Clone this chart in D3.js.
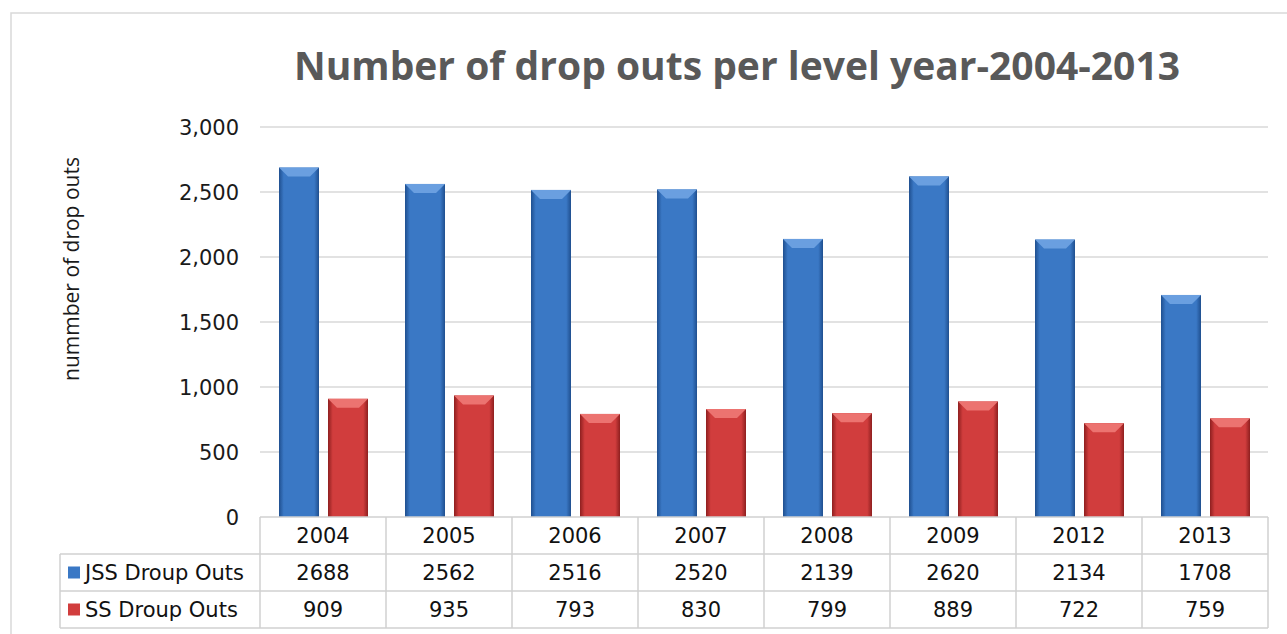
<!DOCTYPE html>
<html>
<head>
<meta charset="utf-8">
<script src="https://cdn.jsdelivr.net/npm/d3@7"></script>
<style>
  body { margin: 0; background: #fff; }
  svg { display: block; }
</style>
</head>
<body>
<div id="chart"></div>
<script>
// chart data
const years = ["2004", "2005", "2006", "2007", "2008", "2009", "2012", "2013"]
const jss = [2688, 2562, 2516, 2520, 2139, 2620, 2134, 1708]
const ss = [909, 935, 793, 830, 799, 889, 722, 759]
const seriesNames = ["JSS Droup Outs", "SS Droup Outs"]
const yTicks = [0, 500, 1000, 1500, 2000, 2500, 3000]

const W = 1287, H = 634
const plot = {left: 260, right: 1268, top: 127, bottom: 517}
const rowH = 37
const tableLeft = 60

const svg = d3.select("#chart").append("svg")
  .attr("width", W).attr("height", H)

const defs = svg.append("defs")

// horizontal gradients give the rounded bar look
function barGradient(id, edge, mid) {
  const g = defs.append("linearGradient").attr("id", id)
    .attr("x1", "0%").attr("x2", "100%").attr("y1", "0%").attr("y2", "0%")
  g.append("stop").attr("offset", "0%").attr("stop-color", edge)
  g.append("stop").attr("offset", "12%").attr("stop-color", mid)
  g.append("stop").attr("offset", "88%").attr("stop-color", mid)
  g.append("stop").attr("offset", "100%").attr("stop-color", edge)
}
barGradient("gradBlue", "#1f4f8f", "#3a78c5")
barGradient("gradRed", "#8e1f1f", "#d13d3d")

// outer frame
svg.append("rect")
  .attr("x", 11).attr("y", 13)
  .attr("width", W).attr("height", H)
  .attr("fill", "none")
  .attr("stroke", "#d9d9d9")
  .attr("stroke-width", 1.5)

// title
svg.append("text")
  .attr("x", 737).attr("y", 80)
  .attr("text-anchor", "middle")
  .style("font", "bold 39px 'Open Sans', sans-serif")
  .attr("textLength", 886)
  .attr("lengthAdjust", "spacingAndGlyphs")
  .attr("fill", "#595959")
  .text("Number of drop outs per level year-2004-2013")

// scales
const x = d3.scaleBand()
  .domain(years)
  .range([plot.left, plot.right])

const y = d3.scaleLinear()
  .domain([0, 3000])
  .range([plot.bottom, plot.top])

// gridlines
svg.append("g")
  .selectAll("line")
  .data(yTicks.filter(d => d > 0))
  .join("line")
  .attr("x1", plot.left).attr("x2", plot.right)
  .attr("y1", d => y(d)).attr("y2", d => y(d))
  .attr("stroke", "#d9d9d9")
  .attr("stroke-width", 1.5)

// y axis labels
const yAxis = svg.append("g")
  .attr("transform", `translate(${plot.left}, 0)`)
  .call(d3.axisLeft(y).tickValues(yTicks).tickFormat(d3.format(",")).tickSize(0).tickPadding(21))
yAxis.select(".domain").remove()
yAxis.selectAll("text")
  .style("font", "21px 'DejaVu Sans', sans-serif")
  .attr("fill", "#1a1a1a")
  .attr("dy", "0.35em")

// y axis title
svg.append("text")
  .attr("transform", "translate(79, 269) rotate(-90)")
  .attr("text-anchor", "middle")
  .style("font", "21px 'Open Sans', sans-serif")
  .attr("fill", "#1a1a1a")
  .text("nummber of drop outs")

// bars
const barW = 40
const series = [
  {name: seriesNames[0], values: jss, off: 19, grad: "url(#gradBlue)", top: "#6a9fe0", color: "#3a78c5"},
  {name: seriesNames[1], values: ss, off: 68, grad: "url(#gradRed)", top: "#ec7370", color: "#d13d3d"}
]

series.forEach(s => {
  const g = svg.append("g")
  const data = years.map((yr, i) => ({year: yr, value: s.values[i]}))
  g.selectAll("rect")
    .data(data)
    .join("rect")
    .attr("x", d => x(d.year) + s.off)
    .attr("y", d => y(d.value))
    .attr("width", barW)
    .attr("height", d => y(0) - y(d.value))
    .attr("fill", s.grad)
  // bevel on top of each bar
  const b = 9
  g.selectAll("path")
    .data(data)
    .join("path")
    .attr("d", d => {
      const x0 = x(d.year) + s.off, x1 = x0 + barW, y0 = y(d.value)
      return `M${x0},${y0}L${x1},${y0}L${x1 - b},${y0 + b}L${x0 + b},${y0 + b}Z`
    })
    .attr("fill", s.top)
})

// data table
const tbl = svg.append("g")
const lineColor = "#d0d0d0"
// horizontal lines
tbl.append("line")
  .attr("x1", plot.left).attr("x2", plot.right)
  .attr("y1", plot.bottom).attr("y2", plot.bottom)
  .attr("stroke", lineColor).attr("stroke-width", 1.5)
;[1, 2, 3].forEach(r => {
  tbl.append("line")
    .attr("x1", tableLeft).attr("x2", plot.right)
    .attr("y1", plot.bottom + r * rowH).attr("y2", plot.bottom + r * rowH)
    .attr("stroke", lineColor).attr("stroke-width", 1.5)
})
// vertical lines
years.forEach(yr => {
  tbl.append("line")
    .attr("x1", x(yr)).attr("x2", x(yr))
    .attr("y1", plot.bottom).attr("y2", plot.bottom + 3 * rowH)
    .attr("stroke", lineColor).attr("stroke-width", 1.5)
})
tbl.append("line")
  .attr("x1", plot.right).attr("x2", plot.right)
  .attr("y1", plot.bottom).attr("y2", plot.bottom + 3 * rowH)
  .attr("stroke", lineColor).attr("stroke-width", 1.5)
tbl.append("line")
  .attr("x1", tableLeft).attr("x2", tableLeft)
  .attr("y1", plot.bottom + rowH).attr("y2", plot.bottom + 3 * rowH)
  .attr("stroke", lineColor).attr("stroke-width", 1.5)

const cellFont = "21px 'DejaVu Sans', sans-serif"

// header row with the years
tbl.selectAll("text.yr")
  .data(years)
  .join("text")
  .attr("class", "yr")
  .attr("x", d => x(d) + x.bandwidth() / 2)
  .attr("y", plot.bottom + rowH / 2)
  .attr("dy", "0.36em")
  .attr("text-anchor", "middle")
  .style("font", cellFont)
  .attr("fill", "#111")
  .text(d => d)

series.forEach((s, r) => {
  const rowY = plot.bottom + (r + 1) * rowH + rowH / 2
  tbl.selectAll("text.v" + r)
    .data(s.values)
    .join("text")
    .attr("class", "v" + r)
    .attr("x", (d, i) => x(years[i]) + x.bandwidth() / 2)
    .attr("y", rowY)
    .attr("dy", "0.36em")
    .attr("text-anchor", "middle")
    .style("font", cellFont)
    .attr("fill", "#111")
    .text(d => d)
  // legend key
  tbl.append("rect")
    .attr("x", tableLeft + 8).attr("y", rowY - 6)
    .attr("width", 12).attr("height", 12)
    .attr("fill", s.color)
  tbl.append("text")
    .attr("x", tableLeft + 25).attr("y", rowY)
    .attr("dy", "0.36em")
    .style("font", cellFont)
    .attr("fill", "#111")
    .text(s.name)
})
</script>
</body>
</html>
